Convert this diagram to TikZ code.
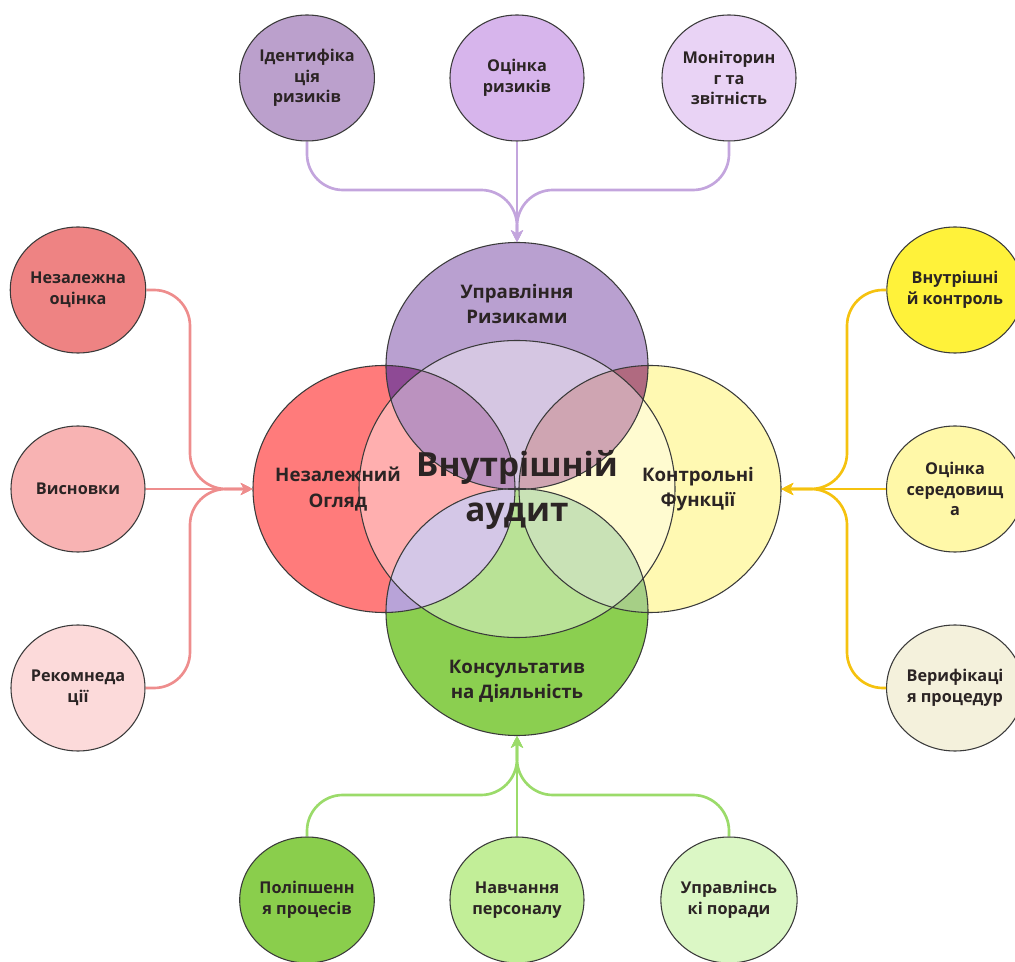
\documentclass[tikz,border=0pt]{standalone}
\usepackage{fontspec}
\setmainfont{Open Sans}
\usetikzlibrary{positioning, arrows.meta, shapes.geometric}

\definecolor{textdark}{HTML}{2B2424}
\definecolor{ringgray}{HTML}{3A3A3A}
\definecolor{riskfill}{HTML}{B9A0D0}
\definecolor{reviewfill}{HTML}{FF7B7B}
\definecolor{controlfill}{HTML}{FFF9B2}
\definecolor{consultfill}{HTML}{8BCF50}
\definecolor{lensrl}{HTML}{8E4A95}
\definecolor{lensrc}{HTML}{B06A80}
\definecolor{lenscl}{HTML}{B8A3D8}
\definecolor{lenscc}{HTML}{A6CF86}
\definecolor{riskarrow}{HTML}{C3A5DD}
\definecolor{reviewarrow}{HTML}{EE8D8D}
\definecolor{controlarrow}{HTML}{F5C20F}
\definecolor{consultarrow}{HTML}{9BDB6A}
% small circle fills
\definecolor{riA}{HTML}{BBA0CC}
\definecolor{riB}{HTML}{D7B5EC}
\definecolor{riC}{HTML}{E9D3F5}
\definecolor{neA}{HTML}{EE8383}
\definecolor{neB}{HTML}{F8B3B3}
\definecolor{neC}{HTML}{FCDADA}
\definecolor{vkA}{HTML}{FFF23A}
\definecolor{vkB}{HTML}{FFF8A8}
\definecolor{vkC}{HTML}{F4F1DC}
\definecolor{poA}{HTML}{8ACE4C}
\definecolor{poB}{HTML}{C2EE98}
\definecolor{poC}{HTML}{DBF7C5}

\newcommand{\bigrx}{131}
\newcommand{\bigry}{123.5}

\begin{document}
\begin{tikzpicture}[
    x=0.75pt, y=-0.75pt,
    smallcircle/.style={ellipse, draw=ringgray, line width=0.8pt, minimum width=100.5pt, minimum height=94.5pt, inner sep=0pt, align=center, text=textdark, font=\bfseries\fontsize{12.2}{15.4}\selectfont},
    bigcircle/.style={ellipse, minimum width=196.5pt, minimum height=185.25pt, inner sep=0pt},
    auditcircle/.style={ellipse, minimum width=237pt, minimum height=222.75pt, inner sep=0pt},
    biglabel/.style={align=center, text=textdark, font=\bfseries\fontsize{14}{19}\selectfont},
    ringline/.style={draw=ringgray, line width=0.8pt},
    linkline/.style={line width=2pt, rounded corners=27pt, -{Stealth[length=9pt, width=9pt, inset=2.5pt]}}
]
\useasboundingbox (0,0) rectangle (1015,962);

% big circles
\node[bigcircle, fill=reviewfill](review) at (384,489){};
\node[bigcircle, fill=controlfill](control) at (650,489){};
\node[bigcircle, fill=riskfill](risk) at (517,366){};
\node[bigcircle, fill=consultfill](consult) at (517,612){};
\node[auditcircle](audit) at (517,489){};

% overlaps
\begin{scope}
  \clip (risk.center) ellipse [x radius=\bigrx, y radius=\bigry];
  \fill[lensrl] (review.center) ellipse [x radius=\bigrx, y radius=\bigry];
  \fill[lensrc] (control.center) ellipse [x radius=\bigrx, y radius=\bigry];
\end{scope}
\begin{scope}
  \clip (consult.center) ellipse [x radius=\bigrx, y radius=\bigry];
  \fill[lenscl] (review.center) ellipse [x radius=\bigrx, y radius=\bigry];
  \fill[lenscc] (control.center) ellipse [x radius=\bigrx, y radius=\bigry];
\end{scope}
\fill[white, fill opacity=0.4] (audit.center) ellipse [x radius=158, y radius=148.5];

\foreach \n in {review, control, risk, consult}
  \draw[ringline] (\n.center) ellipse [x radius=\bigrx, y radius=\bigry];
\draw[ringline] (audit.center) ellipse [x radius=158, y radius=148.5];

\node[biglabel](risklbl) at (517,304){Управління\\Ризиками};
\node[biglabel](reviewlbl) at (338,489){Незалежний\\Огляд};
\node[biglabel](controllbl) at (698,489){Контрольні\\Функції};
\node[biglabel](consultlbl) at (517,681){Консультатив\\на Діяльність};
\node[align=center, text=textdark, font=\bfseries\fontsize{25}{34}\selectfont](auditlbl) at (517,490){Внутрішній\\аудит};

% small circles
\node[smallcircle, fill=riA](ri1) at (307,78){Ідентифіка\\ція\\ризиків};
\node[smallcircle, fill=riB](ri2) at (517,78){Оцінка\\ризиків};
\node[smallcircle, fill=riC](ri3) at (729,78){Моніторин\\г та\\звітність};

\node[smallcircle, fill=neA](ne1) at (78,290){Незалежна\\оцінка};
\node[smallcircle, fill=neB](ne2) at (78,489){Висновки};
\node[smallcircle, fill=neC](ne3) at (78,688){Рекомнеда\\ції};

\node[smallcircle, fill=vkA](vk1) at (955,290){Внутрішні\\й контроль};
\node[smallcircle, fill=vkB](vk2) at (955,489){Оцінка\\середовищ\\а};
\node[smallcircle, fill=vkC](vk3) at (955,688){Верифікаці\\я процедур};

\node[smallcircle, fill=poA](po1) at (307,900){Поліпшенн\\я процесів};
\node[smallcircle, fill=poB](po2) at (517,900){Навчання\\персоналу};
\node[smallcircle, fill=poC](po3) at (729,900){Управлінсь\\кі поради};

% connectors
\coordinate (riskjoin) at (517,190);
\coordinate (reviewjoin) at (190,489);
\coordinate (controljoin) at (847,489);
\coordinate (consultjoin) at (517,795);

\draw[linkline, riskarrow] (ri1.south) |- (riskjoin) -- (risk.north);
\draw[linkline, riskarrow] (ri2.south) -- (risk.north);
\draw[linkline, riskarrow] (ri3.south) |- (riskjoin) -- (risk.north);

\draw[linkline, reviewarrow] (ne1.east) -| (reviewjoin) -- (review.west);
\draw[linkline, reviewarrow] (ne2.east) -- (review.west);
\draw[linkline, reviewarrow] (ne3.east) -| (reviewjoin) -- (review.west);

\draw[linkline, controlarrow] (vk1.west) -| (controljoin) -- (control.east);
\draw[linkline, controlarrow] (vk2.west) -- (control.east);
\draw[linkline, controlarrow] (vk3.west) -| (controljoin) -- (control.east);

\draw[linkline, consultarrow] (po1.north) |- (consultjoin) -- (consult.south);
\draw[linkline, consultarrow] (po2.north) -- (consult.south);
\draw[linkline, consultarrow] (po3.north) |- (consultjoin) -- (consult.south);
\end{tikzpicture}
\end{document}
